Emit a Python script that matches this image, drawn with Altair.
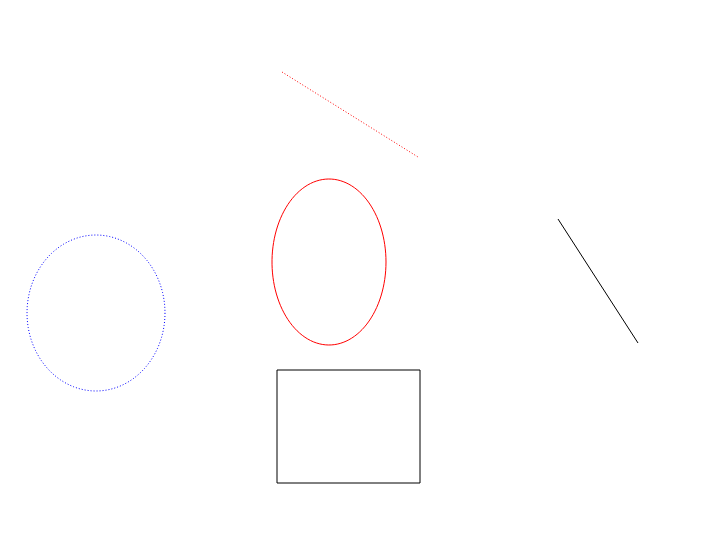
import altair as alt
import numpy as np
import pandas as pd

# shapes in page pixel coordinates
red_line_x = [282, 418]
red_line_y = [72, 157]
black_line_x = [558, 638]
black_line_y = [219, 343]
rect_x = [277, 420]
rect_y = [370, 483]
red_ell = dict(cx=329, cy=262, rx=57, ry=83)
blue_ell = dict(cx=96, cy=313, rx=69, ry=78)

def ellipse(e, n=120):
    t = np.linspace(0, 2 * np.pi, n)
    return pd.DataFrame({"x": e["cx"] + e["rx"] * np.cos(t),
                         "y": e["cy"] + e["ry"] * np.sin(t),
                         "o": np.arange(n)})

X = alt.Scale(domain=[8, 708])
Y = alt.Scale(domain=[8, 550], reverse=True)
ax = None

def line(df, color, dash=None):
    kw = dict(color=color, strokeWidth=1)
    if dash:
        kw["strokeDash"] = dash
    return alt.Chart(df).mark_line(**kw).encode(
        x=alt.X("x:Q", scale=X, axis=None),
        y=alt.Y("y:Q", scale=Y, axis=None),
        order="o:Q")

rl = pd.DataFrame({"x": red_line_x, "y": red_line_y, "o": [0, 1]})
bl = pd.DataFrame({"x": black_line_x, "y": black_line_y, "o": [0, 1]})
rc = pd.DataFrame({"x": [rect_x[0]], "x2": [rect_x[1]], "y": [rect_y[0]], "y2": [rect_y[1]]})

rect = alt.Chart(rc).mark_rect(fill=None, stroke="black", strokeWidth=1).encode(
    x=alt.X("x:Q", scale=X, axis=None), x2="x2",
    y=alt.Y("y:Q", scale=Y, axis=None), y2="y2")

chart = alt.layer(
    line(rl, "red", [1, 2]),
    line(ellipse(red_ell), "red"),
    line(ellipse(blue_ell), "blue", [1, 2]),
    line(bl, "black"),
    rect,
).properties(width=700, height=542, padding=0).configure_view(stroke=None)

chart.save("out.html", embed_options={"renderer": "svg", "actions": False})
